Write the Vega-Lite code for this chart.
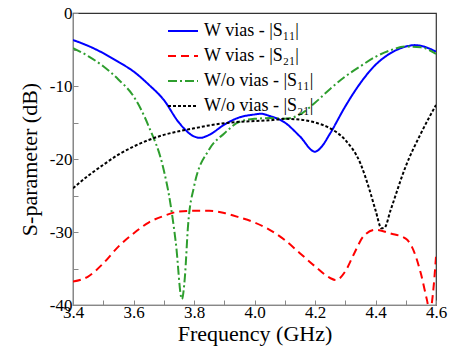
{
  "$schema": "https://vega.github.io/schema/vega-lite/v6.json",
  "width": 363,
  "height": 292,
  "autosize": {"type": "none"},
  "padding": {"left": 73, "top": 13, "right": 14, "bottom": 47},
  "background": "white",
  "config": {
    "view": {"stroke": "#333333", "strokeWidth": 1.2}
  },
  "data": {"values": [
    {"s":"W vias - |S₁₁|","f":3.40,"v":-3.7},{"s":"W vias - |S₁₁|","f":3.45,"v":-4.5},{"s":"W vias - |S₁₁|","f":3.50,"v":-5.5},{"s":"W vias - |S₁₁|","f":3.55,"v":-6.7},{"s":"W vias - |S₁₁|","f":3.60,"v":-8.0},{"s":"W vias - |S₁₁|","f":3.65,"v":-9.8},{"s":"W vias - |S₁₁|","f":3.70,"v":-11.9},{"s":"W vias - |S₁₁|","f":3.75,"v":-15.0},{"s":"W vias - |S₁₁|","f":3.80,"v":-16.9},{"s":"W vias - |S₁₁|","f":3.82,"v":-17.1},{"s":"W vias - |S₁₁|","f":3.85,"v":-16.7},{"s":"W vias - |S₁₁|","f":3.90,"v":-15.3},{"s":"W vias - |S₁₁|","f":3.95,"v":-14.3},{"s":"W vias - |S₁₁|","f":4.00,"v":-13.9},{"s":"W vias - |S₁₁|","f":4.02,"v":-13.8},{"s":"W vias - |S₁₁|","f":4.05,"v":-14.1},{"s":"W vias - |S₁₁|","f":4.10,"v":-15.0},{"s":"W vias - |S₁₁|","f":4.15,"v":-16.9},{"s":"W vias - |S₁₁|","f":4.20,"v":-19.0},{"s":"W vias - |S₁₁|","f":4.22,"v":-18.4},{"s":"W vias - |S₁₁|","f":4.25,"v":-16.5},{"s":"W vias - |S₁₁|","f":4.30,"v":-12.8},{"s":"W vias - |S₁₁|","f":4.35,"v":-9.6},{"s":"W vias - |S₁₁|","f":4.40,"v":-7.1},{"s":"W vias - |S₁₁|","f":4.45,"v":-5.5},{"s":"W vias - |S₁₁|","f":4.50,"v":-4.6},{"s":"W vias - |S₁₁|","f":4.53,"v":-4.4},{"s":"W vias - |S₁₁|","f":4.56,"v":-4.6},{"s":"W vias - |S₁₁|","f":4.60,"v":-5.3},
    {"s":"W vias - |S₂₁|","f":3.40,"v":-36.8},{"s":"W vias - |S₂₁|","f":3.45,"v":-36.1},{"s":"W vias - |S₂₁|","f":3.50,"v":-34.3},{"s":"W vias - |S₂₁|","f":3.55,"v":-32.0},{"s":"W vias - |S₂₁|","f":3.60,"v":-30.2},{"s":"W vias - |S₂₁|","f":3.65,"v":-28.7},{"s":"W vias - |S₂₁|","f":3.70,"v":-27.8},{"s":"W vias - |S₂₁|","f":3.75,"v":-27.2},{"s":"W vias - |S₂₁|","f":3.80,"v":-27.1},{"s":"W vias - |S₂₁|","f":3.85,"v":-27.1},{"s":"W vias - |S₂₁|","f":3.90,"v":-27.4},{"s":"W vias - |S₂₁|","f":3.95,"v":-28.0},{"s":"W vias - |S₂₁|","f":4.00,"v":-28.7},{"s":"W vias - |S₂₁|","f":4.05,"v":-29.7},{"s":"W vias - |S₂₁|","f":4.10,"v":-31.1},{"s":"W vias - |S₂₁|","f":4.15,"v":-32.9},{"s":"W vias - |S₂₁|","f":4.20,"v":-34.7},{"s":"W vias - |S₂₁|","f":4.25,"v":-36.3},{"s":"W vias - |S₂₁|","f":4.27,"v":-36.6},{"s":"W vias - |S₂₁|","f":4.30,"v":-35.4},{"s":"W vias - |S₂₁|","f":4.33,"v":-32.9},{"s":"W vias - |S₂₁|","f":4.36,"v":-30.6},{"s":"W vias - |S₂₁|","f":4.40,"v":-29.7},{"s":"W vias - |S₂₁|","f":4.45,"v":-30.2},{"s":"W vias - |S₂₁|","f":4.50,"v":-30.9},{"s":"W vias - |S₂₁|","f":4.52,"v":-32.0},{"s":"W vias - |S₂₁|","f":4.55,"v":-35.7},{"s":"W vias - |S₂₁|","f":4.57,"v":-39.3},{"s":"W vias - |S₂₁|","f":4.58,"v":-41.0},{"s":"W vias - |S₂₁|","f":4.59,"v":-38.4},{"s":"W vias - |S₂₁|","f":4.60,"v":-33.4},
    {"s":"W/o vias - |S₁₁|","f":3.40,"v":-4.8},{"s":"W/o vias - |S₁₁|","f":3.45,"v":-5.9},{"s":"W/o vias - |S₁₁|","f":3.50,"v":-7.3},{"s":"W/o vias - |S₁₁|","f":3.55,"v":-9.1},{"s":"W/o vias - |S₁₁|","f":3.60,"v":-11.4},{"s":"W/o vias - |S₁₁|","f":3.65,"v":-15.5},{"s":"W/o vias - |S₁₁|","f":3.70,"v":-21.5},{"s":"W/o vias - |S₁₁|","f":3.72,"v":-25.6},{"s":"W/o vias - |S₁₁|","f":3.74,"v":-31.5},{"s":"W/o vias - |S₁₁|","f":3.76,"v":-39.2},{"s":"W/o vias - |S₁₁|","f":3.77,"v":-36.1},{"s":"W/o vias - |S₁₁|","f":3.78,"v":-29.3},{"s":"W/o vias - |S₁₁|","f":3.80,"v":-23.8},{"s":"W/o vias - |S₁₁|","f":3.85,"v":-18.7},{"s":"W/o vias - |S₁₁|","f":3.90,"v":-16.5},{"s":"W/o vias - |S₁₁|","f":3.95,"v":-14.9},{"s":"W/o vias - |S₁₁|","f":4.00,"v":-14.5},{"s":"W/o vias - |S₁₁|","f":4.05,"v":-14.4},{"s":"W/o vias - |S₁₁|","f":4.10,"v":-14.5},{"s":"W/o vias - |S₁₁|","f":4.15,"v":-13.9},{"s":"W/o vias - |S₁₁|","f":4.20,"v":-12.3},{"s":"W/o vias - |S₁₁|","f":4.25,"v":-10.4},{"s":"W/o vias - |S₁₁|","f":4.30,"v":-8.7},{"s":"W/o vias - |S₁₁|","f":4.35,"v":-7.3},{"s":"W/o vias - |S₁₁|","f":4.40,"v":-6.0},{"s":"W/o vias - |S₁₁|","f":4.45,"v":-5.1},{"s":"W/o vias - |S₁₁|","f":4.50,"v":-4.6},{"s":"W/o vias - |S₁₁|","f":4.55,"v":-4.7},{"s":"W/o vias - |S₁₁|","f":4.60,"v":-5.6},
    {"s":"W/o vias - |S₂₁|","f":3.40,"v":-24.0},{"s":"W/o vias - |S₂₁|","f":3.45,"v":-22.3},{"s":"W/o vias - |S₂₁|","f":3.50,"v":-20.8},{"s":"W/o vias - |S₂₁|","f":3.55,"v":-19.4},{"s":"W/o vias - |S₂₁|","f":3.60,"v":-18.3},{"s":"W/o vias - |S₂₁|","f":3.65,"v":-17.4},{"s":"W/o vias - |S₂₁|","f":3.70,"v":-16.7},{"s":"W/o vias - |S₂₁|","f":3.75,"v":-16.2},{"s":"W/o vias - |S₂₁|","f":3.80,"v":-15.8},{"s":"W/o vias - |S₂₁|","f":3.85,"v":-15.4},{"s":"W/o vias - |S₂₁|","f":3.90,"v":-15.1},{"s":"W/o vias - |S₂₁|","f":3.95,"v":-14.9},{"s":"W/o vias - |S₂₁|","f":4.00,"v":-14.8},{"s":"W/o vias - |S₂₁|","f":4.05,"v":-14.7},{"s":"W/o vias - |S₂₁|","f":4.10,"v":-14.5},{"s":"W/o vias - |S₂₁|","f":4.15,"v":-14.6},{"s":"W/o vias - |S₂₁|","f":4.20,"v":-15.0},{"s":"W/o vias - |S₂₁|","f":4.25,"v":-15.8},{"s":"W/o vias - |S₂₁|","f":4.30,"v":-17.4},{"s":"W/o vias - |S₂₁|","f":4.35,"v":-20.6},{"s":"W/o vias - |S₂₁|","f":4.38,"v":-24.2},{"s":"W/o vias - |S₂₁|","f":4.40,"v":-27.0},{"s":"W/o vias - |S₂₁|","f":4.42,"v":-29.5},{"s":"W/o vias - |S₂₁|","f":4.43,"v":-29.4},{"s":"W/o vias - |S₂₁|","f":4.45,"v":-27.0},{"s":"W/o vias - |S₂₁|","f":4.50,"v":-21.0},{"s":"W/o vias - |S₂₁|","f":4.55,"v":-16.5},{"s":"W/o vias - |S₂₁|","f":4.60,"v":-12.6}
  ]},
  "mark": {"type": "line", "interpolate": "monotone", "strokeWidth": 2, "clip": true},
  "encoding": {
    "x": {"field": "f", "type": "quantitative",
      "scale": {"domain": [3.4, 4.6], "nice": false, "zero": false},
      "axis": {"title": "Frequency (GHz)", "values": [3.4,3.5,3.6,3.7,3.8,3.9,4.0,4.1,4.2,4.3,4.4,4.5,4.6],
        "labelExpr": "abs(datum.value*10 - round(datum.value*10/2)*2) < 0.01 ? format(datum.value, '.1f') : ''",
        "tickSize": -5, "grid": false, "labelFlush": false,
        "labelFont": "Liberation Serif", "labelFontSize": 17, "labelPadding": 4,
        "titleFont": "Liberation Serif", "titleFontSize": 22, "titleFontWeight": "normal", "titlePadding": 3}},
    "y": {"field": "v", "type": "quantitative",
      "scale": {"domain": [-40, 0], "nice": false, "zero": false},
      "axis": {"title": "S-parameter (dB)", "values": [-40,-35,-30,-25,-20,-15,-10,-5,0],
        "labelExpr": "datum.value % 10 == 0 ? (datum.value < 0 ? '-' + abs(datum.value) : '' + datum.value) : ''",
        "tickSize": -5, "grid": false,
        "labelFont": "Liberation Serif", "labelFontSize": 17, "labelPadding": 6,
        "titleFont": "Liberation Serif", "titleFontSize": 22, "titleFontWeight": "normal", "titlePadding": 8}},
    "color": {"field": "s", "type": "nominal",
      "scale": {"domain": ["W vias - |S₁₁|","W vias - |S₂₁|","W/o vias - |S₁₁|","W/o vias - |S₂₁|"], "range": ["#0000ff","#ff0000","#2e9e2e","#000000"]},
      "legend": {"title": null, "orient": "none", "legendX": 94, "legendY": 2,
        "symbolType": "stroke", "symbolSize": 900, "symbolStrokeWidth": 2,
        "labelFont": "Liberation Serif", "labelFontSize": 18, "rowPadding": -11, "labelOffset": 5, "labelLimit": 300}},
    "strokeDash": {"field": "s", "type": "nominal",
      "scale": {"domain": ["W vias - |S₁₁|","W vias - |S₂₁|","W/o vias - |S₁₁|","W/o vias - |S₂₁|"], "range": [[1,0],[8,5],[9,3,2,3],[3,2]]},
      "legend": {"title": null, "orient": "none", "legendX": 94, "legendY": 2,
        "symbolType": "stroke", "symbolSize": 900, "symbolStrokeWidth": 2,
        "labelFont": "Liberation Serif", "labelFontSize": 18, "rowPadding": -11, "labelOffset": 5, "labelLimit": 300}}
  }
}
